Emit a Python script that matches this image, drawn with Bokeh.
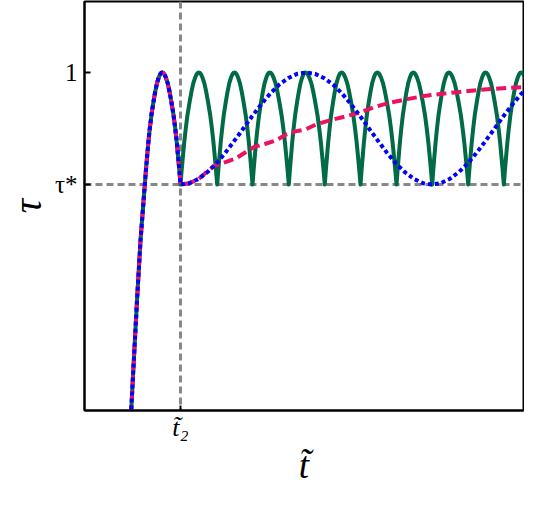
from bokeh.plotting import figure
from bokeh.models import Span, FixedTicker, Range1d
from bokeh.embed import file_html
from bokeh.resources import INLINE

# ---- reference levels / ticks ----
tau_star = 0.5
tau_one = 1.0
t2 = 0.0

y_ticks = [0.5, 1.0]
y_tick_labels = ["τ*", "1"]
x_ticks = [0.0]
x_tick_labels = ["t̃₂"]

# ---- shared leading branch (below tau*) ----
lead_x = [-1.404, -1.373, -1.290, -1.206, -1.114, -0.994]
lead_y = [-0.598, -0.509, -0.254, -0.003, 0.250, 0.500]

# ---- green: arches between these zeros, peaking at these positions ----
arch_zeros = [-0.994, 0.0, 1.022, 2.006, 3.017, 4.019, 5.014, 6.017, 7.011, 8.014, 9.006, 10.0]
arch_peaks = [-0.510, 0.510, 1.504, 2.487, 3.482, 4.485, 5.479, 6.482, 7.474, 8.496, 9.490]
# shape of half an arch (fraction of half-width -> fraction of height)
half_arch_r = [0.0, 0.06, 0.12, 0.20, 0.28, 0.38, 0.50, 0.60, 0.70, 0.80, 0.88, 0.94, 1.0]
half_arch_f = [0.0, 0.12, 0.23, 0.37, 0.49, 0.62, 0.74, 0.83, 0.905, 0.955, 0.984, 0.996, 1.0]

# ---- blue dotted ----
blue_x = [0.0, 0.25, 0.5, 0.75, 1.0, 1.25, 1.5, 1.75, 2.0, 2.25, 2.5, 2.75, 3.0, 3.25, 3.5,
          3.75, 4.0, 4.25, 4.5, 4.75, 5.0, 5.25, 5.5, 5.75, 6.0, 6.25, 6.5, 6.75, 7.0,
          7.25, 7.5, 7.75, 8.0, 8.25, 8.5, 8.75, 9.0, 9.25, 9.5, 9.75, 10.0]
blue_y = [0.500, 0.506, 0.525, 0.555, 0.594, 0.642, 0.695, 0.750, 0.806, 0.858, 0.906, 0.946, 0.975, 0.994, 1.000,
          0.994, 0.975, 0.946, 0.906, 0.858, 0.806, 0.750, 0.695, 0.642, 0.594, 0.555, 0.525, 0.506, 0.500,
          0.506, 0.525, 0.555, 0.594, 0.642, 0.695, 0.750, 0.806, 0.858, 0.906, 0.946, 0.975]

# ---- pink dashed ----
pink_x = [0.0, 0.25, 0.5, 0.649, 0.80, 0.975, 1.10, 1.253, 1.532, 1.811, 2.042, 2.368, 2.646, 2.925,
          3.203, 3.482, 3.760, 4.039, 4.318, 4.596, 4.967, 5.38, 5.85, 6.31, 6.78, 7.24, 7.71,
          8.17, 8.64, 9.10, 9.56, 10.03]
pink_y = [0.500, 0.506, 0.524, 0.545, 0.566, 0.585, 0.593, 0.600, 0.615, 0.644, 0.667, 0.682, 0.696, 0.722,
          0.737, 0.746, 0.767, 0.781, 0.793, 0.804, 0.820, 0.845, 0.866, 0.881, 0.895, 0.904, 0.912,
          0.920, 0.926, 0.931, 0.935, 0.942]


def arch(z0, pk, z1):
    xs, ys = [], []
    amp = tau_one - tau_star
    for r, f in zip(half_arch_r, half_arch_f):
        xs.append(z0 + (pk - z0) * r)
        ys.append(tau_star + amp * f)
    for r, f in zip(reversed(half_arch_r[:-1]), reversed(half_arch_f[:-1])):
        xs.append(z1 - (z1 - pk) * r)
        ys.append(tau_star + amp * f)
    return xs, ys


# shared start: lead branch + first arch
first_x, first_y = arch(arch_zeros[0], arch_peaks[0], arch_zeros[1])
start_x = lead_x + first_x[1:]
start_y = lead_y + first_y[1:]

green_x, green_y = list(start_x), list(start_y)
for i in range(1, len(arch_peaks)):
    ax, ay = arch(arch_zeros[i], arch_peaks[i], arch_zeros[i + 1])
    green_x += ax[1:]
    green_y += ay[1:]

pink_full_x = start_x + pink_x[1:]
pink_full_y = start_y + pink_y[1:]
blue_full_x = start_x + blue_x[1:]
blue_full_y = start_y + blue_y[1:]

p = figure(width=524, height=491, output_backend="svg", toolbar_location=None,
           x_range=Range1d(-2.674, 9.554), y_range=Range1d(-0.509, 1.317),
           min_border_left=84, min_border_right=1, min_border_top=1, min_border_bottom=81)

p.background_fill_color = "white"
p.border_fill_color = "white"
p.outline_line_color = "black"
p.outline_line_width = 2
p.grid.visible = False

p.add_layout(Span(location=tau_star, dimension="width", line_color="#888888",
                  line_width=3, line_dash="7 4", level="underlay"))
p.add_layout(Span(location=t2, dimension="height", line_color="#888888",
                  line_width=3, line_dash="7 4", level="underlay"))

p.line(green_x, green_y, line_color="#006B45", line_width=4, line_join="round")
p.line(pink_full_x, pink_full_y, line_color="#EC1163", line_width=4, line_dash="10 5",
       line_join="round")
p.line(blue_full_x, blue_full_y, line_color="#0000FF", line_width=4, line_dash="4 3",
       line_join="round")

for ax in (p.xaxis[0], p.yaxis[0]):
    ax.axis_line_color = "black"
    ax.axis_line_width = 2
    ax.major_tick_line_color = "black"
    ax.major_tick_line_width = 2
    ax.major_tick_out = 0
    ax.minor_tick_line_color = None
    ax.major_label_text_font = "Liberation Serif"
    ax.major_label_text_font_size = "25px"
    ax.major_label_text_color = "black"
    ax.axis_label_text_font = "Liberation Serif"
    ax.axis_label_text_font_style = "italic"
    ax.axis_label_text_font_size = "40px"
    ax.axis_label_text_color = "black"

p.yaxis.ticker = FixedTicker(ticks=y_ticks)
p.yaxis.major_label_overrides = dict(zip(y_ticks, y_tick_labels))
p.yaxis.major_tick_in = 6
p.yaxis.major_label_standoff = 7
p.yaxis.axis_label = "τ"
p.yaxis.axis_label_standoff = 2

p.xaxis.ticker = FixedTicker(ticks=x_ticks)
p.xaxis.major_label_overrides = dict(zip(x_ticks, x_tick_labels))
p.xaxis.major_label_text_font_style = "italic"
p.xaxis.major_label_text_font_size = "26px"
p.xaxis.axis_label_text_font_size = "37px"
p.xaxis.major_tick_in = 5
p.xaxis.major_label_standoff = 2
p.xaxis.axis_label = "t̃"
p.xaxis.axis_label_standoff = 0

open("out.html", "w").write(file_html(p, INLINE))
